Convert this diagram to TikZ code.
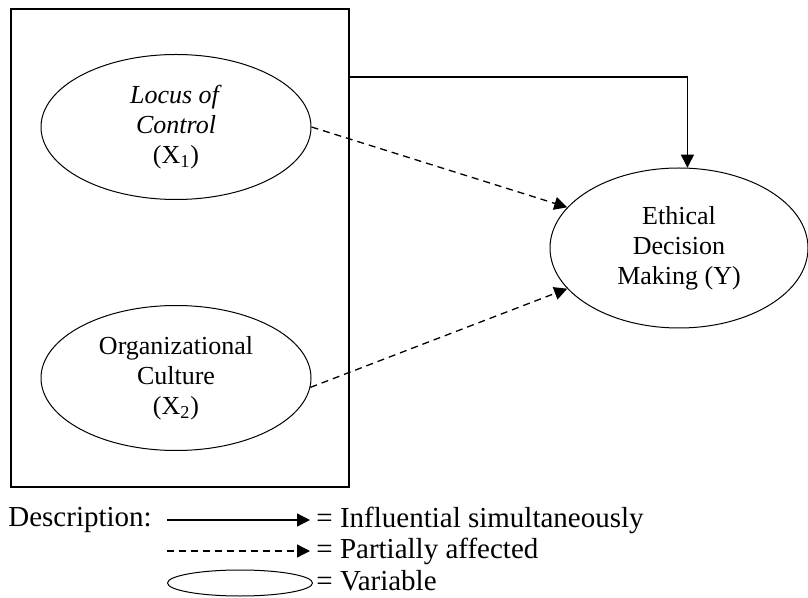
\documentclass[tikz,border=0pt]{standalone}
\usepackage{fontspec}
\setmainfont{Liberation Serif}
\usetikzlibrary{shapes.geometric,arrows.meta}

\begin{document}
\begin{tikzpicture}[x=0.5pt,y=-0.5pt,
  font=\fontsize{13}{15}\selectfont,
  var/.style={draw,ellipse,line width=0.5pt,align=center,inner sep=0pt},
  legend/.style={anchor=west,inner sep=0pt,font=\fontsize{14.5}{16}\selectfont},
  solidarrow/.style={line width=0.65pt,-{Triangle[length=6.5pt,width=6.5pt]}},
  dasharrow/.style={solidarrow,dash pattern=on 3.5pt off 2.5pt}]
\useasboundingbox (0,0) rectangle (808,598);
\node[draw,line width=0.7pt,minimum width=169pt,minimum height=239pt,inner sep=0pt] (frame) at (180,248) {};
\node[var,minimum width=135pt,minimum height=72.5pt] (x1) at (176,127) {\textit{Locus of}\\\textit{Control}\\(X\textsubscript{1})};
\node[var,minimum width=135pt,minimum height=72.5pt] (x2) at (176,378) {Organizational\\Culture\\(X\textsubscript{2})};
\node[var,minimum width=129pt,minimum height=80pt] (y) at (679,248) {Ethical\\Decision\\Making (Y)};
\coordinate (topline) at (349,77);
\draw[solidarrow] (topline) -| (y.84);
\draw[dasharrow] (x1.east) -- (y.160);
\draw[dasharrow] (x2.-4) -- (y.200);
% legend
\node[legend] (desc) at (8,520) {Description:};
\node[legend] (lsolid) at (316,520) {= Influential simultaneously};
\node[legend] (ldash) at (316,551) {= Partially affected};
\node[legend] (lvar) at (316,581) {= Variable};
\coordinate (ssolid) at (167,520);
\coordinate (sdash) at (167,551);
\draw[solidarrow] (ssolid) -- ([xshift=-3pt]lsolid.west);
\draw[dasharrow] (sdash) -- ([xshift=-3pt]ldash.west);
\node[var,minimum width=72.5pt,minimum height=13pt] (lellipse) at (240,583) {};
\end{tikzpicture}
\end{document}
